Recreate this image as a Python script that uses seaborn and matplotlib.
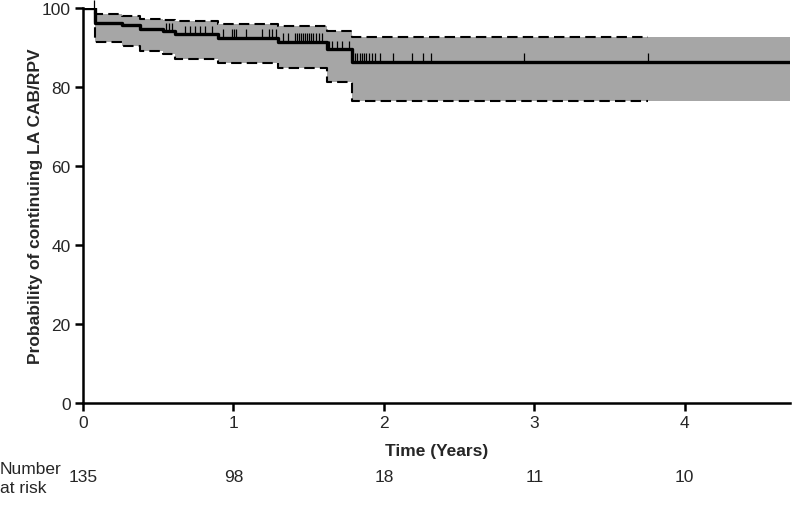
import matplotlib
matplotlib.use("Agg")
import matplotlib.pyplot as plt
import matplotlib.transforms as mtransforms
import seaborn as sns
import pandas as pd
import numpy as np

# ---- data ----
step_times = [0.0, 0.08, 0.257, 0.379, 0.534, 0.611, 0.897, 1.296, 1.619, 1.785]
survival   = [100.0, 96.3, 95.6, 94.8, 94.1, 93.3, 92.5, 91.5, 89.5, 86.4]
ci_upper   = [100.0, 98.5, 98.0, 97.3, 96.9, 96.6, 96.0, 95.4, 94.2, 92.7]
ci_lower   = [100.0, 91.5, 90.3, 89.2, 88.4, 87.1, 86.1, 84.7, 81.2, 76.5]
censor_times = [0.07,
                0.551, 0.571, 0.591,
                0.678, 0.711, 0.744, 0.777, 0.811, 0.857,
                0.930, 0.990, 1.003, 1.020, 1.083, 1.189, 1.236, 1.256, 1.282,
                1.329, 1.362, 1.409, 1.422, 1.435, 1.449, 1.462, 1.475, 1.488,
                1.502, 1.515, 1.528, 1.548, 1.568, 1.588,
                1.635, 1.654, 1.688, 1.721, 1.767,
                1.807, 1.821, 1.841, 1.854, 1.867, 1.880, 1.900, 1.920, 1.940,
                1.973, 2.060, 2.186, 2.259, 2.316, 2.930, 3.754]
last_followup = 3.754
x_end = 4.70
risk_times = [0, 1, 2, 3, 4]
risk_counts = ["135", "98", "18", "11", "10"]
x_ticks = [0, 1, 2, 3, 4]
y_ticks = [0, 20, 40, 60, 80, 100]

sns.set_style("ticks")
plt.rcParams["font.family"] = ["Liberation Sans", "DejaVu Sans"]

fig = plt.figure(figsize=(7.92, 5.06), dpi=100)
ax = fig.add_axes([83/792, 1-404/506, (790-83)/792, (404-9)/506])

km = pd.DataFrame({"time": step_times + [x_end], "surv": survival + [survival[-1]]})
ci = pd.DataFrame({"time": step_times + [last_followup],
                   "upper": ci_upper + [ci_upper[-1]],
                   "lower": ci_lower + [ci_lower[-1]]})

band_t = np.array(step_times + [x_end])
ax.fill_between(band_t, ci_lower + [ci_lower[-1]], ci_upper + [ci_upper[-1]],
                step="post", color="#a6a6a6", linewidth=0, zorder=1)

sns.lineplot(data=ci, x="time", y="upper", ax=ax, color="black", linewidth=1.5,
             linestyle=(0, (5, 2.5)), drawstyle="steps-post", estimator=None,
             sort=False, zorder=2)
sns.lineplot(data=ci, x="time", y="lower", ax=ax, color="black", linewidth=1.5,
             linestyle=(0, (5, 2.5)), drawstyle="steps-post", estimator=None,
             sort=False, zorder=2)
sns.lineplot(data=km, x="time", y="surv", ax=ax, color="black", linewidth=2.4,
             drawstyle="steps-post", estimator=None, sort=False, zorder=3)

idx = np.searchsorted(step_times, censor_times, side="right") - 1
levels = np.array(survival)[idx]
ax.vlines(censor_times, levels, levels + 2.1, color="black", linewidth=0.9,
          zorder=4, clip_on=False)

ax.set_xlim(0, x_end)
ax.set_ylim(0, 100)
ax.set_xticks(x_ticks)
ax.set_yticks(y_ticks)
ax.tick_params(axis="both", direction="out", length=6, width=1.8,
               labelsize=12.5, pad=3, color="black")
for s in ["left", "bottom"]:
    ax.spines[s].set_linewidth(1.8)
    ax.spines[s].set_color("black")
sns.despine(ax=ax)

ax.set_xlabel("Time (Years)", fontsize=12.5, fontweight="bold", labelpad=9)
ax.set_ylabel("Probability of continuing LA CAB/RPV", fontsize=12.5,
              fontweight="bold", labelpad=-1)

trans = mtransforms.blended_transform_factory(ax.transData, fig.transFigure)
for t, n in zip(risk_times, risk_counts):
    ax.text(t, 1-478/506, n, transform=trans, ha="center", va="center",
            fontsize=12.5, clip_on=False)
fig.text(0.0, 1-479/506, "Number\nat risk", ha="left", va="center",
         fontsize=12.5, linespacing=1.35)

fig.savefig("out.png", dpi=100)
